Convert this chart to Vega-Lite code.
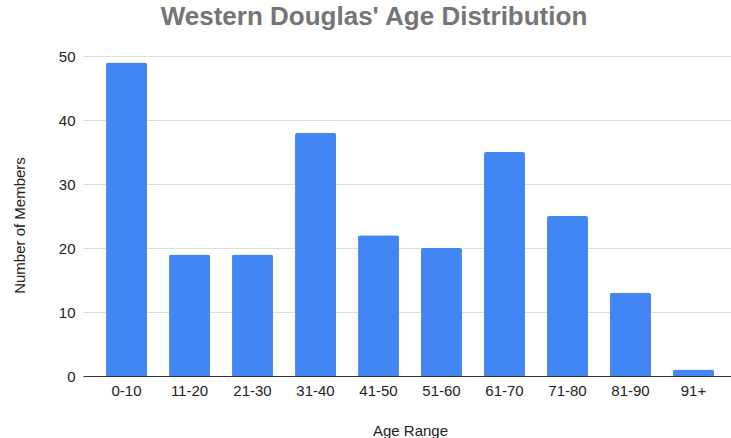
{
  "$schema": "https://vega.github.io/schema/vega-lite/v6.json",
  "autosize": {"type": "none"},
  "width": 648,
  "height": 320,
  "padding": {"left": 83, "top": 56, "right": 0, "bottom": 62},
  "background": "#ffffff",
  "title": {
    "text": "Western Douglas' Age Distribution",
    "anchor": "middle",
    "frame": "group",
    "font": "Liberation Sans",
    "fontSize": 26,
    "fontWeight": "bold",
    "color": "#757575",
    "baseline": "alphabetic",
    "offset": 27,
    "dx": -33,
    "dy": 29
  },
  "config": {
    "view": {"stroke": null},
    "font": "Liberation Sans"
  },
  "data": {
    "values": [
      {"range": "0-10", "members": 49},
      {"range": "11-20", "members": 19},
      {"range": "21-30", "members": 19},
      {"range": "31-40", "members": 38},
      {"range": "41-50", "members": 22},
      {"range": "51-60", "members": 20},
      {"range": "61-70", "members": 35},
      {"range": "71-80", "members": 25},
      {"range": "81-90", "members": 13},
      {"range": "91+", "members": 1}
    ]
  },
  "mark": {"type": "bar", "color": "#4285F4", "cornerRadiusTopLeft": 2, "cornerRadiusTopRight": 2},
  "encoding": {
    "x": {
      "field": "range",
      "type": "ordinal",
      "sort": null,
      "title": "Age Range",
      "scale": {"paddingInner": 0.35, "paddingOuter": 0.318, "align": 0.575},
      "axis": {
        "labelAngle": 0,
        "labelFont": "Liberation Sans",
        "labelFontSize": 15,
        "labelColor": "#222222",
        "labelPadding": 7,
        "ticks": false,
        "domain": true,
        "domainColor": "#333333",
        "domainWidth": 1,
        "titleFont": "Liberation Sans",
        "titleFontSize": 15,
        "titleFontWeight": "normal",
        "titleColor": "#222222",
        "titleBaseline": "alphabetic",
        "titleX": 327,
        "titleY": 59,
        "titleAnchor": null
      }
    },
    "y": {
      "field": "members",
      "type": "quantitative",
      "title": "Number of Members",
      "scale": {"domain": [0, 50], "nice": false},
      "axis": {
        "values": [0, 10, 20, 30, 40, 50],
        "labelFont": "Liberation Sans",
        "labelFontSize": 15,
        "labelColor": "#222222",
        "labelPadding": 8,
        "ticks": false,
        "domain": false,
        "grid": true,
        "gridColor": "#dddddd",
        "gridWidth": 1,
        "titleFont": "Liberation Sans",
        "titleFontSize": 15,
        "titleFontWeight": "normal",
        "titleColor": "#222222",
        "titleBaseline": "alphabetic",
        "titleAngle": -90,
        "titleX": -59,
        "titleY": 169
      }
    }
  }
}
